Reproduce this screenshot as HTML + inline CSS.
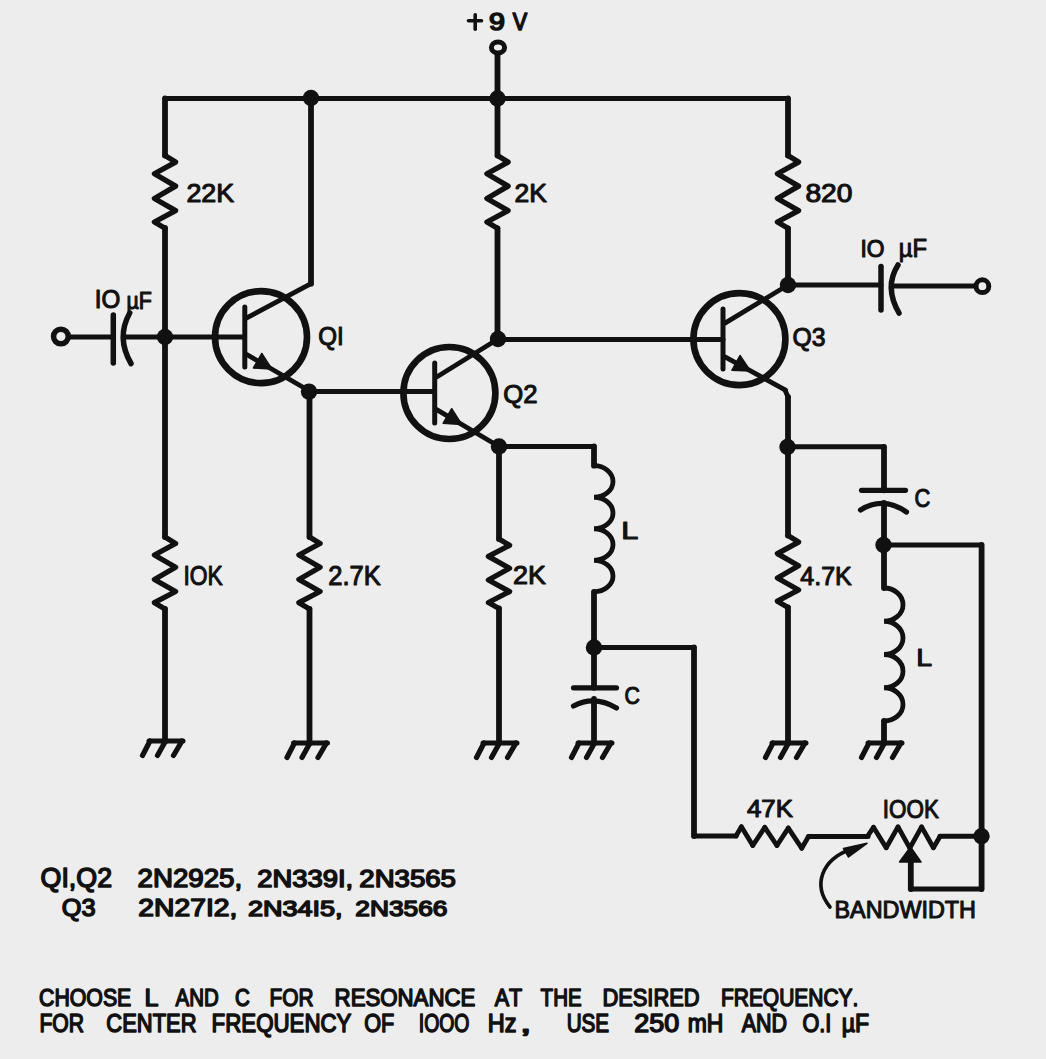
<!DOCTYPE html>
<html><head><meta charset="utf-8"><style>
html,body{margin:0;padding:0;background:#ededed;}
svg{display:block;}
text{font-family:"Liberation Sans",sans-serif;font-weight:normal;font-kerning:none;fill:#111;stroke:#111;stroke-linejoin:round;}
</style></head><body>
<svg width="1046" height="1059" viewBox="0 0 1046 1059">
<rect width="1046" height="1059" fill="#ededed"/>
<path d="M165.0,155.6 L165.0,98.5" fill="none" stroke="#111" stroke-width="5.8" stroke-linecap="round"/>
<path d="M165.0,98.5 L788.0,98.5" fill="none" stroke="#111" stroke-width="5.0" stroke-linecap="round"/>
<path d="M788.0,98.5 L788.0,155.6" fill="none" stroke="#111" stroke-width="5.8" stroke-linecap="round"/>
<path d="M165.0,228.0 L165.0,537.0" fill="none" stroke="#111" stroke-width="5.8" stroke-linecap="round"/>
<path d="M165.0,609.0 L165.0,741.5" fill="none" stroke="#111" stroke-width="5.8" stroke-linecap="round"/>
<path d="M165.0,155.6 L175.6,162.1 L154.4,173.8 L175.6,186.1 L154.4,198.5 L175.6,210.6 L154.4,222.0 L165.0,228.3" fill="none" stroke="#111" stroke-width="5.3" stroke-linejoin="round" stroke-linecap="round"/>
<path d="M165.0,537.0 L175.6,543.5 L154.4,555.0 L175.6,567.2 L154.4,579.5 L175.6,591.5 L154.4,602.7 L165.0,609.0" fill="none" stroke="#111" stroke-width="5.3" stroke-linejoin="round" stroke-linecap="round"/>
<path d="M149.0,741.0 L183.0,741.0" fill="none" stroke="#111" stroke-width="5" stroke-linejoin="round" stroke-linecap="round"/>
<path d="M150.0,741.0 L142.5,755.5" fill="none" stroke="#111" stroke-width="5.2" stroke-linejoin="round" stroke-linecap="round"/>
<path d="M165.5,741.0 L157.5,755.5" fill="none" stroke="#111" stroke-width="5.2" stroke-linejoin="round" stroke-linecap="round"/>
<path d="M182.0,741.0 L173.5,755.5" fill="none" stroke="#111" stroke-width="5.2" stroke-linejoin="round" stroke-linecap="round"/>
<path d="M311.0,98.5 L311.0,283.7" fill="none" stroke="#111" stroke-width="5.8" stroke-linecap="round"/>
<circle cx="261" cy="337.1" r="46" fill="none" stroke="#111" stroke-width="6.6"/>
<path d="M244.8,307.1 L244.8,367.1" fill="none" stroke="#111" stroke-width="5" stroke-linejoin="round" stroke-linecap="round"/>
<path d="M246.8,317.8 L311.0,283.7" fill="none" stroke="#111" stroke-width="4.8" stroke-linejoin="round" stroke-linecap="round"/>
<path d="M246.8,354.5 L309.5,391.0" fill="none" stroke="#111" stroke-width="4.8" stroke-linejoin="round" stroke-linecap="round"/>
<path d="M271.9,369.1 L253.4,368.0 L261.8,353.5 Z" fill="#111" stroke="#111" stroke-width="1.5" stroke-linejoin="round"/>
<circle cx="60.9" cy="336.5" r="7.35" fill="none" stroke="#111" stroke-width="5.5"/>
<path d="M68.5,337.0 L113.0,337.0" fill="none" stroke="#111" stroke-width="5.0" stroke-linecap="round"/>
<path d="M113.3,315.0 L113.3,363.0" fill="none" stroke="#111" stroke-width="5.5" stroke-linejoin="round" stroke-linecap="round"/>
<path d="M129.7,313 Q116,337.6 131,363.5" fill="none" stroke="#111" stroke-width="5.5" stroke-linecap="round"/>
<path d="M124.0,337.0 L244.0,337.0" fill="none" stroke="#111" stroke-width="5.0" stroke-linecap="round"/>
<circle cx="165" cy="337" r="8.2" fill="#111"/>
<path d="M309.5,391.0 L309.5,537.0" fill="none" stroke="#111" stroke-width="5.8" stroke-linecap="round"/>
<path d="M309.5,609.0 L309.5,743.0" fill="none" stroke="#111" stroke-width="5.8" stroke-linecap="round"/>
<path d="M309.5,537.0 L320.1,543.5 L298.9,555.0 L320.1,567.2 L298.9,579.5 L320.1,591.5 L298.9,602.7 L309.5,609.0" fill="none" stroke="#111" stroke-width="5.3" stroke-linejoin="round" stroke-linecap="round"/>
<path d="M293.5,743.0 L327.5,743.0" fill="none" stroke="#111" stroke-width="5" stroke-linejoin="round" stroke-linecap="round"/>
<path d="M294.5,743.0 L287.0,757.5" fill="none" stroke="#111" stroke-width="5.2" stroke-linejoin="round" stroke-linecap="round"/>
<path d="M310.0,743.0 L302.0,757.5" fill="none" stroke="#111" stroke-width="5.2" stroke-linejoin="round" stroke-linecap="round"/>
<path d="M326.5,743.0 L318.0,757.5" fill="none" stroke="#111" stroke-width="5.2" stroke-linejoin="round" stroke-linecap="round"/>
<circle cx="309" cy="391.6" r="8.2" fill="#111"/>
<path d="M309.0,391.6 L434.0,391.6" fill="none" stroke="#111" stroke-width="5.0" stroke-linecap="round"/>
<circle cx="449.4" cy="393" r="46" fill="none" stroke="#111" stroke-width="6.6"/>
<path d="M434.7,363.0 L434.7,423.0" fill="none" stroke="#111" stroke-width="5" stroke-linejoin="round" stroke-linecap="round"/>
<path d="M436.7,377.0 L498.0,339.0" fill="none" stroke="#111" stroke-width="4.8" stroke-linejoin="round" stroke-linecap="round"/>
<path d="M436.7,409.6 L499.0,446.5" fill="none" stroke="#111" stroke-width="4.8" stroke-linejoin="round" stroke-linecap="round"/>
<path d="M461.7,424.4 L443.2,423.2 L451.7,408.7 Z" fill="#111" stroke="#111" stroke-width="1.5" stroke-linejoin="round"/>
<ellipse cx="498" cy="47.5" rx="6.6" ry="5.5" fill="none" stroke="#111" stroke-width="5"/>
<path d="M497.5,55.0 L497.5,155.6" fill="none" stroke="#111" stroke-width="5.8" stroke-linecap="round"/>
<path d="M497.5,155.6 L508.1,162.1 L486.9,173.8 L508.1,186.1 L486.9,198.5 L508.1,210.6 L486.9,222.0 L497.5,228.3" fill="none" stroke="#111" stroke-width="5.3" stroke-linejoin="round" stroke-linecap="round"/>
<path d="M497.5,228.3 L497.5,339.0" fill="none" stroke="#111" stroke-width="5.8" stroke-linecap="round"/>
<circle cx="497.5" cy="98.5" r="8.2" fill="#111"/>
<circle cx="311" cy="98" r="8.2" fill="#111"/>
<circle cx="498" cy="339" r="8.2" fill="#111"/>
<path d="M498.0,339.5 L723.0,339.5" fill="none" stroke="#111" stroke-width="5.0" stroke-linecap="round"/>
<circle cx="739.4" cy="339.1" r="46" fill="none" stroke="#111" stroke-width="6.6"/>
<path d="M723.0,309.1 L723.0,369.1" fill="none" stroke="#111" stroke-width="5" stroke-linejoin="round" stroke-linecap="round"/>
<path d="M725.0,323.1 L788.0,285.0" fill="none" stroke="#111" stroke-width="4.8" stroke-linejoin="round" stroke-linecap="round"/>
<path d="M725.0,356.9 L785.5,390.1" fill="none" stroke="#111" stroke-width="4.8" stroke-linejoin="round" stroke-linecap="round"/>
<path d="M750.4,370.9 L731.9,370.3 L740.0,355.5 Z" fill="#111" stroke="#111" stroke-width="1.5" stroke-linejoin="round"/>
<path d="M788.0,155.6 L798.6,162.1 L777.4,173.8 L798.6,186.1 L777.4,198.5 L798.6,210.6 L777.4,222.0 L788.0,228.3" fill="none" stroke="#111" stroke-width="5.3" stroke-linejoin="round" stroke-linecap="round"/>
<path d="M788.0,228.3 L788.0,285.0" fill="none" stroke="#111" stroke-width="5.8" stroke-linecap="round"/>
<circle cx="788" cy="285" r="8.2" fill="#111"/>
<path d="M788.0,285.0 L881.0,285.0" fill="none" stroke="#111" stroke-width="5.0" stroke-linecap="round"/>
<path d="M881.0,266.5 L881.0,310.0" fill="none" stroke="#111" stroke-width="5.5" stroke-linejoin="round" stroke-linecap="round"/>
<path d="M898,265 Q884,287 899,313" fill="none" stroke="#111" stroke-width="5.5" stroke-linecap="round"/>
<path d="M892.0,286.0 L975.0,286.0" fill="none" stroke="#111" stroke-width="5.0" stroke-linecap="round"/>
<circle cx="982.4" cy="286.2" r="6.4" fill="none" stroke="#111" stroke-width="5.0"/>
<path d="M785.0,390.0 L788.0,397.0" fill="none" stroke="#111" stroke-width="4.8" stroke-linecap="round"/>
<path d="M788.0,397.0 L788.0,535.6" fill="none" stroke="#111" stroke-width="5.8" stroke-linecap="round"/>
<path d="M788.0,535.6 L798.6,542.1 L777.4,553.6 L798.6,565.8 L777.4,578.0 L798.6,590.0 L777.4,601.2 L788.0,607.5" fill="none" stroke="#111" stroke-width="5.3" stroke-linejoin="round" stroke-linecap="round"/>
<path d="M788.0,607.5 L788.0,743.0" fill="none" stroke="#111" stroke-width="5.8" stroke-linecap="round"/>
<path d="M772.0,743.0 L806.0,743.0" fill="none" stroke="#111" stroke-width="5" stroke-linejoin="round" stroke-linecap="round"/>
<path d="M773.0,743.0 L765.5,757.5" fill="none" stroke="#111" stroke-width="5.2" stroke-linejoin="round" stroke-linecap="round"/>
<path d="M788.5,743.0 L780.5,757.5" fill="none" stroke="#111" stroke-width="5.2" stroke-linejoin="round" stroke-linecap="round"/>
<path d="M805.0,743.0 L796.5,757.5" fill="none" stroke="#111" stroke-width="5.2" stroke-linejoin="round" stroke-linecap="round"/>
<circle cx="787.5" cy="447" r="8.2" fill="#111"/>
<circle cx="499" cy="446.5" r="8.2" fill="#111"/>
<path d="M499.0,446.5 L499.0,539.0" fill="none" stroke="#111" stroke-width="5.8" stroke-linecap="round"/>
<path d="M499.0,539.0 L509.6,545.3 L488.4,556.4 L509.6,568.2 L488.4,580.0 L509.6,591.6 L488.4,602.5 L499.0,608.5" fill="none" stroke="#111" stroke-width="5.3" stroke-linejoin="round" stroke-linecap="round"/>
<path d="M499.0,608.5 L499.0,743.0" fill="none" stroke="#111" stroke-width="5.8" stroke-linecap="round"/>
<path d="M483.0,743.0 L517.0,743.0" fill="none" stroke="#111" stroke-width="5" stroke-linejoin="round" stroke-linecap="round"/>
<path d="M484.0,743.0 L476.5,757.5" fill="none" stroke="#111" stroke-width="5.2" stroke-linejoin="round" stroke-linecap="round"/>
<path d="M499.5,743.0 L491.5,757.5" fill="none" stroke="#111" stroke-width="5.2" stroke-linejoin="round" stroke-linecap="round"/>
<path d="M516.0,743.0 L507.5,757.5" fill="none" stroke="#111" stroke-width="5.2" stroke-linejoin="round" stroke-linecap="round"/>
<path d="M499.0,446.5 L594.0,446.5" fill="none" stroke="#111" stroke-width="5.0" stroke-linecap="round"/>
<path d="M594.0,446.5 L594.0,465.7" fill="none" stroke="#111" stroke-width="5.8" stroke-linecap="round"/>
<path d="M594,465.7 A19,15.762499999999996 0 0 1 594,497.22499999999997 A19,15.762499999999996 0 0 1 594,528.75 A19,15.762499999999996 0 0 1 594,560.275 A19,15.762499999999996 0 0 1 594,591.8" fill="none" stroke="#111" stroke-width="4.8" stroke-linecap="round"/>
<path d="M594.0,591.8 L594.0,687.8" fill="none" stroke="#111" stroke-width="5.8" stroke-linecap="round"/>
<circle cx="594" cy="647.5" r="8.2" fill="#111"/>
<path d="M573.5,687.8 L616.5,687.8" fill="none" stroke="#111" stroke-width="5.2" stroke-linejoin="round" stroke-linecap="round"/>
<path d="M573.5,706 Q594.4,695 616.5,708" fill="none" stroke="#111" stroke-width="5.2" stroke-linecap="round"/>
<path d="M594.0,699.0 L594.0,743.0" fill="none" stroke="#111" stroke-width="5.8" stroke-linecap="round"/>
<path d="M578.0,743.0 L612.0,743.0" fill="none" stroke="#111" stroke-width="5" stroke-linejoin="round" stroke-linecap="round"/>
<path d="M579.0,743.0 L571.5,757.5" fill="none" stroke="#111" stroke-width="5.2" stroke-linejoin="round" stroke-linecap="round"/>
<path d="M594.5,743.0 L586.5,757.5" fill="none" stroke="#111" stroke-width="5.2" stroke-linejoin="round" stroke-linecap="round"/>
<path d="M611.0,743.0 L602.5,757.5" fill="none" stroke="#111" stroke-width="5.2" stroke-linejoin="round" stroke-linecap="round"/>
<path d="M594.0,647.5 L694.0,647.5" fill="none" stroke="#111" stroke-width="5.0" stroke-linecap="round"/>
<path d="M694.0,647.5 L694.0,836.0" fill="none" stroke="#111" stroke-width="5.8" stroke-linecap="round"/>
<path d="M694.0,836.0 L736.0,836.0" fill="none" stroke="#111" stroke-width="5.0" stroke-linecap="round"/>
<path d="M736.0,836.0 L741.4,826.8" fill="none" stroke="#111" stroke-width="4.8" stroke-linecap="round"/>
<path d="M741.4,826.8 L752.8,845.5" fill="none" stroke="#111" stroke-width="4.8" stroke-linecap="round"/>
<path d="M752.8,845.5 L764.8,827.4" fill="none" stroke="#111" stroke-width="4.8" stroke-linecap="round"/>
<path d="M764.8,827.4 L776.9,845.5" fill="none" stroke="#111" stroke-width="4.8" stroke-linecap="round"/>
<path d="M776.9,845.5 L788.3,828.1" fill="none" stroke="#111" stroke-width="4.8" stroke-linecap="round"/>
<path d="M788.3,828.1 L801.7,848.2" fill="none" stroke="#111" stroke-width="4.8" stroke-linecap="round"/>
<path d="M801.7,848.2 L808.4,836.8" fill="none" stroke="#111" stroke-width="4.8" stroke-linecap="round"/>
<path d="M808.4,836.5 L868.0,836.5" fill="none" stroke="#111" stroke-width="5.0" stroke-linecap="round"/>
<path d="M868.0,835.5 L873.5,827.3" fill="none" stroke="#111" stroke-width="4.8" stroke-linecap="round"/>
<path d="M873.5,827.3 L886.2,847.7" fill="none" stroke="#111" stroke-width="4.8" stroke-linecap="round"/>
<path d="M886.2,847.7 L898.0,826.9" fill="none" stroke="#111" stroke-width="4.8" stroke-linecap="round"/>
<path d="M898.0,826.9 L909.8,848.1" fill="none" stroke="#111" stroke-width="4.8" stroke-linecap="round"/>
<path d="M909.8,848.1 L921.6,826.9" fill="none" stroke="#111" stroke-width="4.8" stroke-linecap="round"/>
<path d="M921.6,826.9 L933.4,847.7" fill="none" stroke="#111" stroke-width="4.8" stroke-linecap="round"/>
<path d="M933.4,847.7 L940.0,836.5" fill="none" stroke="#111" stroke-width="4.8" stroke-linecap="round"/>
<path d="M940.0,836.3 L981.5,836.3" fill="none" stroke="#111" stroke-width="5.0" stroke-linecap="round"/>
<circle cx="981.5" cy="836.3" r="8.2" fill="#111"/>
<path d="M910.5,847 L899.5,862 L921,862 Z" fill="#111" stroke="#111" stroke-width="1.5" stroke-linejoin="round"/>
<path d="M910.8,860.0 L910.8,889.0" fill="none" stroke="#111" stroke-width="5.8" stroke-linecap="round"/>
<path d="M910.8,889.0 L981.6,889.0" fill="none" stroke="#111" stroke-width="5.0" stroke-linecap="round"/>
<path d="M981.6,889.0 L981.6,545.0" fill="none" stroke="#111" stroke-width="5.8" stroke-linecap="round"/>
<path d="M787.5,446.8 L884.0,446.8" fill="none" stroke="#111" stroke-width="5.0" stroke-linecap="round"/>
<path d="M884.0,446.8 L884.0,490.3" fill="none" stroke="#111" stroke-width="5.8" stroke-linecap="round"/>
<path d="M861.5,490.3 L905.5,490.3" fill="none" stroke="#111" stroke-width="5.2" stroke-linejoin="round" stroke-linecap="round"/>
<path d="M860.5,510 Q883,496 906.5,512" fill="none" stroke="#111" stroke-width="5.2" stroke-linecap="round"/>
<path d="M884.0,503.0 L884.0,588.0" fill="none" stroke="#111" stroke-width="5.8" stroke-linecap="round"/>
<circle cx="883.5" cy="545" r="8.2" fill="#111"/>
<path d="M884.0,545.0 L981.6,545.0" fill="none" stroke="#111" stroke-width="5.0" stroke-linecap="round"/>
<path d="M884,588 A19,16.625 0 0 1 884,621.25 A19,16.625 0 0 1 884,654.5 A19,16.625 0 0 1 884,687.75 A19,16.625 0 0 1 884,721.0" fill="none" stroke="#111" stroke-width="4.8" stroke-linecap="round"/>
<path d="M884.0,721.0 L884.0,743.0" fill="none" stroke="#111" stroke-width="5.8" stroke-linecap="round"/>
<path d="M868.0,743.0 L902.0,743.0" fill="none" stroke="#111" stroke-width="5" stroke-linejoin="round" stroke-linecap="round"/>
<path d="M869.0,743.0 L861.5,757.5" fill="none" stroke="#111" stroke-width="5.2" stroke-linejoin="round" stroke-linecap="round"/>
<path d="M884.5,743.0 L876.5,757.5" fill="none" stroke="#111" stroke-width="5.2" stroke-linejoin="round" stroke-linecap="round"/>
<path d="M901.0,743.0 L892.5,757.5" fill="none" stroke="#111" stroke-width="5.2" stroke-linejoin="round" stroke-linecap="round"/>
<path d="M830,907 C812,885 822,860 850,849.5" fill="none" stroke="#111" stroke-width="3.6" stroke-linecap="round"/>
<path d="M867,843.3 L843.5,848.5 L848.5,857 Z" fill="#111" stroke="#111" stroke-width="1.5" stroke-linejoin="round"/>
<text x="186.43" y="201.75" font-size="25.94" stroke-width="1.1" textLength="47.72" lengthAdjust="spacingAndGlyphs">22K</text>
<text x="514.46" y="202.05" font-size="25.07" stroke-width="1.1" textLength="32.31" lengthAdjust="spacingAndGlyphs">2K</text>
<text x="805.48" y="202.05" font-size="25.51" stroke-width="1.1" textLength="46.9" lengthAdjust="spacingAndGlyphs">820</text>
<text x="94.85" y="308.15" font-size="25.07" stroke-width="1.1" textLength="25.52" lengthAdjust="spacingAndGlyphs">IO</text>
<text x="126.38" y="308.85" font-size="24.35" stroke-width="1.1" textLength="25.42" lengthAdjust="spacingAndGlyphs">µF</text>
<text x="860.49" y="256.55" font-size="23.33" stroke-width="1.1" textLength="24.02" lengthAdjust="spacingAndGlyphs">IO</text>
<text x="898.74" y="256.95" font-size="25.8" stroke-width="1.1" textLength="28.23" lengthAdjust="spacingAndGlyphs">µF</text>
<text x="318.31" y="345.45" font-size="25.51" stroke-width="1.1" textLength="25.48" lengthAdjust="spacingAndGlyphs">QI</text>
<text x="503.26" y="403.25" font-size="26.09" stroke-width="1.1" textLength="34.29" lengthAdjust="spacingAndGlyphs">Q2</text>
<text x="792.59" y="346.45" font-size="25.94" stroke-width="1.1" textLength="32.98" lengthAdjust="spacingAndGlyphs">Q3</text>
<text x="183.4" y="584.65" font-size="27.83" stroke-width="1.1" textLength="39.34" lengthAdjust="spacingAndGlyphs">IOK</text>
<text x="328.24" y="584.85" font-size="27.39" stroke-width="1.1" textLength="52.59" lengthAdjust="spacingAndGlyphs">2.7K</text>
<text x="513.04" y="584.35" font-size="25.51" stroke-width="1.1" textLength="32.84" lengthAdjust="spacingAndGlyphs">2K</text>
<text x="800.32" y="584.95" font-size="26.38" stroke-width="1.1" textLength="51.49" lengthAdjust="spacingAndGlyphs">4.7K</text>
<text x="621.24" y="539.25" font-size="24.35" stroke-width="1.1" textLength="17.08" lengthAdjust="spacingAndGlyphs">L</text>
<text x="916.38" y="666.25" font-size="23.91" stroke-width="1.1" textLength="15.79" lengthAdjust="spacingAndGlyphs">L</text>
<text x="624.62" y="704.35" font-size="24.06" stroke-width="1.1" textLength="15.39" lengthAdjust="spacingAndGlyphs">C</text>
<text x="914.58" y="507.25" font-size="25.65" stroke-width="1.1" textLength="15.78" lengthAdjust="spacingAndGlyphs">C</text>
<text x="746.97" y="817.15" font-size="24.2" stroke-width="1.1" textLength="46.04" lengthAdjust="spacingAndGlyphs">47K</text>
<text x="882.86" y="818.25" font-size="25.65" stroke-width="1.1" textLength="56.02" lengthAdjust="spacingAndGlyphs">IOOK</text>
<text x="834.56" y="918.15" font-size="24.2" stroke-width="1.1" textLength="141.4" lengthAdjust="spacingAndGlyphs">BANDWIDTH</text>
<text x="40.61" y="887.25" font-size="26.96" stroke-width="1.5" textLength="71.42" lengthAdjust="spacingAndGlyphs">QI,Q2</text>
<text x="137.51" y="887.25" font-size="26.09" stroke-width="1.5" textLength="104.71" lengthAdjust="spacingAndGlyphs">2N2925,</text>
<text x="257.38" y="886.85" font-size="24.2" stroke-width="1.5" textLength="95.8" lengthAdjust="spacingAndGlyphs">2N339I,</text>
<text x="359.38" y="886.85" font-size="24.2" stroke-width="1.5" textLength="96.55" lengthAdjust="spacingAndGlyphs">2N3565</text>
<text x="61.72" y="915.75" font-size="24.2" stroke-width="1.5" textLength="33.81" lengthAdjust="spacingAndGlyphs">Q3</text>
<text x="138.37" y="915.85" font-size="23.91" stroke-width="1.5" textLength="98.95" lengthAdjust="spacingAndGlyphs">2N27I2,</text>
<text x="247.96" y="915.95" font-size="22.17" stroke-width="1.5" textLength="94.62" lengthAdjust="spacingAndGlyphs">2N34I5,</text>
<text x="355.27" y="915.95" font-size="22.17" stroke-width="1.5" textLength="92.17" lengthAdjust="spacingAndGlyphs">2N3566</text>
<text x="39.08" y="1005.75" font-size="24.64" stroke-width="1.5" textLength="92.21" lengthAdjust="spacingAndGlyphs">CHOOSE</text>
<text x="144.45" y="1005.75" font-size="24.64" stroke-width="1.5" textLength="13.99" lengthAdjust="spacingAndGlyphs">L</text>
<text x="175.62" y="1005.75" font-size="24.64" stroke-width="1.5" textLength="43.21" lengthAdjust="spacingAndGlyphs">AND</text>
<text x="235.1" y="1005.75" font-size="24.64" stroke-width="1.5" textLength="14.84" lengthAdjust="spacingAndGlyphs">C</text>
<text x="269.47" y="1005.75" font-size="24.64" stroke-width="1.5" textLength="43.96" lengthAdjust="spacingAndGlyphs">FOR</text>
<text x="334.6" y="1005.75" font-size="24.64" stroke-width="1.5" textLength="140.71" lengthAdjust="spacingAndGlyphs">RESONANCE</text>
<text x="494.66" y="1005.75" font-size="24.64" stroke-width="1.5" textLength="27.57" lengthAdjust="spacingAndGlyphs">AT</text>
<text x="540.61" y="1005.75" font-size="24.64" stroke-width="1.5" textLength="40.98" lengthAdjust="spacingAndGlyphs">THE</text>
<text x="602.42" y="1005.75" font-size="24.64" stroke-width="1.5" textLength="97.21" lengthAdjust="spacingAndGlyphs">DESIRED</text>
<text x="720.96" y="1005.75" font-size="24.64" stroke-width="1.5" textLength="137.42" lengthAdjust="spacingAndGlyphs">FREQUENCY.</text>
<text x="39.44" y="1032.25" font-size="25.07" stroke-width="1.5" textLength="44.6" lengthAdjust="spacingAndGlyphs">FOR</text>
<text x="106.36" y="1032.25" font-size="25.07" stroke-width="1.5" textLength="90.11" lengthAdjust="spacingAndGlyphs">CENTER</text>
<text x="211.58" y="1032.25" font-size="25.07" stroke-width="1.5" textLength="139.88" lengthAdjust="spacingAndGlyphs">FREQUENCY</text>
<text x="364.17" y="1032.25" font-size="25.07" stroke-width="1.5" textLength="30.03" lengthAdjust="spacingAndGlyphs">OF</text>
<text x="418.84" y="1032.25" font-size="25.07" stroke-width="1.5" textLength="50.58" lengthAdjust="spacingAndGlyphs">IOOO</text>
<text x="487.82" y="1032.25" font-size="25.07" stroke-width="1.5" textLength="28.7" lengthAdjust="spacingAndGlyphs">Hz</text>
<text x="520.06" y="1032.25" font-size="25.07" stroke-width="1.5" textLength="11.3" lengthAdjust="spacingAndGlyphs">,</text>
<text x="566.67" y="1032.25" font-size="25.07" stroke-width="1.5" textLength="42.47" lengthAdjust="spacingAndGlyphs">USE</text>
<text x="634.26" y="1032.25" font-size="25.07" stroke-width="1.5" textLength="44.98" lengthAdjust="spacingAndGlyphs">250</text>
<text x="687.68" y="1032.25" font-size="25.07" stroke-width="1.5" textLength="35.58" lengthAdjust="spacingAndGlyphs">mH</text>
<text x="741.64" y="1032.25" font-size="25.07" stroke-width="1.5" textLength="45.32" lengthAdjust="spacingAndGlyphs">AND</text>
<text x="802.57" y="1032.25" font-size="25.07" stroke-width="1.5" textLength="28.81" lengthAdjust="spacingAndGlyphs">O.I</text>
<text x="841.78" y="1032.25" font-size="25.07" stroke-width="1.5" textLength="27.39" lengthAdjust="spacingAndGlyphs">µF</text>
<text x="488.96" y="30.0" font-size="23.19" stroke-width="1.6" textLength="15.88" lengthAdjust="spacingAndGlyphs">9</text>
<text x="512.73" y="30.0" font-size="23.19" stroke-width="1.6" textLength="14.38" lengthAdjust="spacingAndGlyphs">V</text>
<path d="M468.5,20.8 L481.5,20.8" fill="none" stroke="#111" stroke-width="3.6" stroke-linejoin="round" stroke-linecap="round"/>
<path d="M475.2,14.8 L475.2,29.3" fill="none" stroke="#111" stroke-width="3.6" stroke-linejoin="round" stroke-linecap="round"/>
</svg>
</body></html>
